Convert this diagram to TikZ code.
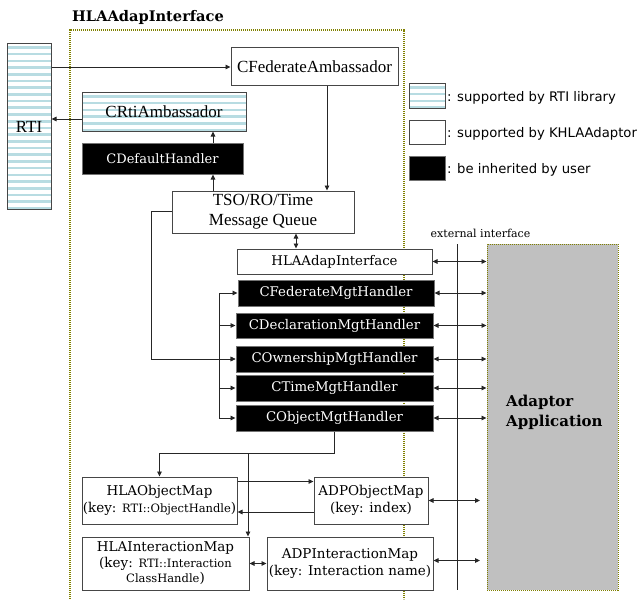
\documentclass[tikz,border=0pt]{standalone}
\usepackage{fontspec}
\setmainfont{Liberation Serif}
\newfontfamily\slab{DejaVu Serif}
\newfontfamily\legendfont{DejaVu Sans}
\usetikzlibrary{arrows.meta,calc}

\definecolor{stripecol}{RGB}{184,220,226}
\definecolor{framecol}{RGB}{128,128,0}
\definecolor{appgray}{RGB}{192,192,192}
\definecolor{edgecol}{RGB}{70,70,70}

\tikzset{
  conn/.style={draw=black!85, line width=0.9pt},
  arr/.style={conn, -{Triangle[length=5pt,width=4.5pt]}},
  darr/.style={conn, {Triangle[length=5pt,width=4.5pt]}-{Triangle[length=5pt,width=4.5pt]}},
  base/.style={inner sep=0pt, line width=1pt, align=center},
  whitebox/.style={base, draw=edgecol, fill=white},
  blackbox/.style={base, draw=black!55, fill=black, text=white},
  stripebox/.style={base, draw=edgecol, fill=white,
    path picture={
      \foreach \k in {0,...,30}{
        \fill[stripecol] ([yshift=-\k*6.7pt-2.2pt]path picture bounding box.north west)
          rectangle ([yshift=-\k*6.7pt-4.8pt]path picture bounding box.north east);
      }}},
  frameline/.style={draw=framecol, line width=1.1pt, dash pattern=on 1.1pt off 0.9pt},
  tnr/.style={font=\fontsize{17}{20}\selectfont},
  slb/.style={font=\slab\fontsize{13.3}{16}\selectfont},
  mapf/.style={font=\slab\fontsize{13.5}{16.5}\selectfont},
  lgtext/.style={font=\legendfont\fontsize{13.2}{16}\selectfont, anchor=west, inner sep=0pt},
}
\newcommand{\smallkey}[1]{{\fontsize{11.5}{14}\selectfont #1}}

\begin{document}
\begin{tikzpicture}[x=1pt,y=-1pt]
  \useasboundingbox (0,0) rectangle (644,599);

  % outer dotted frame of the interface layer (open at the bottom)
  \draw[frameline] (70,599) -- (70,30) -- (404,30) -- (404,599);
  \node[font=\slab\bfseries\fontsize{14.6}{17}\selectfont, anchor=west, inner sep=0pt] (title) at (72,17) {HLAAdapInterface};

  % RTI side
  \node[stripebox, tnr, minimum width=44pt, minimum height=165pt] (rti) at (29,126.5) {RTI};
  \node[whitebox, tnr, minimum width=167pt, minimum height=38pt] (cfa) at (314.5,67) {CFederateAmbassador};
  \node[stripebox, tnr, minimum width=164pt, minimum height=38pt] (crti) at (164,112) {CRtiAmbassador};
  \node[blackbox, font=\slab\fontsize{13}{16}\selectfont, minimum width=161pt, minimum height=31pt] (cdef) at (162.5,158.5) {CDefaultHandler};
  \node[whitebox, tnr, minimum width=182pt, minimum height=42pt] (tso) at (263,212) {TSO/RO/Time\\Message Queue};

  % handlers
  \node[whitebox, slb, minimum width=195pt, minimum height=25pt] (hai) at (334.5,261.5) {HLAAdapInterface};
  \node[blackbox, slb, minimum width=196pt, minimum height=26pt] (cfed) at (336,293) {CFederateMgtHandler};
  \node[blackbox, slb, minimum width=197pt, minimum height=25pt] (cdecl) at (334.5,325.5) {CDeclarationMgtHandler};
  \node[blackbox, slb, minimum width=197pt, minimum height=26pt] (cown) at (334.5,359) {COwnershipMgtHandler};
  \node[blackbox, slb, minimum width=197pt, minimum height=26pt] (ctime) at (334.5,388) {CTimeMgtHandler};
  \node[blackbox, slb, minimum width=197pt, minimum height=26pt] (cobj) at (334.5,418) {CObjectMgtHandler};

  % maps
  \node[whitebox, mapf, minimum width=155pt, minimum height=47pt] (hom) at (159.5,500.5)
    {HLAObjectMap\\(key: \smallkey{RTI::ObjectHandle})};
  \node[whitebox, mapf, minimum width=114pt, minimum height=47pt] (aom) at (371,500.5)
    {ADPObjectMap\\(key: index)};
  \node[whitebox, mapf, minimum width=167pt, minimum height=53pt] (him) at (165.5,563.5)
    {HLAInteractionMap\\[-1pt](key: \smallkey{RTI::Interaction}\\[-1pt]\smallkey{ClassHandle})};
  \node[whitebox, mapf, minimum width=166pt, minimum height=53pt] (aim) at (350,563.5)
    {ADPInteractionMap\\(key: Interaction name)};

  % application side
  \node[base, fill=appgray, draw=framecol, dash pattern=on 1.1pt off 0.9pt, minimum width=131pt, minimum height=346pt] (app) at (552.5,417) {};
  \node[font=\slab\bfseries\fontsize{15}{20}\selectfont, align=left, anchor=west, inner sep=0pt] (applabel) at (506,412) {Adaptor\\Application};
  \coordinate (etop) at (457,244);
  \coordinate (ebot) at (457,590);
  \draw[conn] (etop) -- (ebot);
  \node[font=\slab\fontsize{11}{13}\selectfont, inner sep=0pt] (extlabel) at (480.5,233) {external interface};

  % legend
  \node[stripebox, minimum width=36pt, minimum height=24pt] (lg1) at (427,96) {};
  \node[whitebox, minimum width=36pt, minimum height=24pt] (lg2) at (427,132) {};
  \node[blackbox, minimum width=36pt, minimum height=24pt] (lg3) at (427,168) {};
  \node[lgtext] (lt1) at (447,98) {: supported by RTI library};
  \node[lgtext] (lt2) at (447,134) {: supported by KHLAAdaptor};
  \node[lgtext] (lt3) at (447,170) {: be inherited by user};

  % helper columns for vertical connectors
  \coordinate (cx) at (213,0);
  \coordinate (fx) at (327,0);
  \coordinate (hx) at (296,0);
  \coordinate (bx) at (219,0);
  \coordinate (ax) at (480,0);
  \coordinate (jn) at (248,453);

  % connectors in the upper part
  \draw[arr] (cfa.west -| rti.east) -- (cfa.west);
  \draw[arr] ([yshift=-7pt]crti.west) -- ([yshift=-7pt]crti.west -| rti.east);
  \draw[arr] (cdef.north -| cx) -- (crti.south -| cx);
  \draw[arr] (tso.north -| cx) -- (cdef.south -| cx);
  \draw[arr] (cfa.south -| fx) -- (tso.north -| fx);
  \draw[darr] (tso.south -| hx) -- (hai.north -| hx);
  \draw[arr] ([yshift=1pt]tso.west) -- ++(-20pt,0) |- (cown.west);

  % bus to the handlers
  \draw[conn] (cfed.west -| bx) -- (cobj.west -| bx);
  \foreach \h in {cfed,cdecl,cown,ctime,cobj}{
    \draw[arr] (\h.west -| bx) -- (\h.west);
  }

  % external interface links
  \foreach \h in {hai,cfed,cdecl,cown,ctime,cobj}{
    \draw[darr] (\h.east) -- (\h.east -| app.west);
  }
  \draw[darr] (aom.east) -- (aom.east -| ax);
  \draw[darr] ([yshift=3pt]aim.east) -- ([yshift=3pt]aim.east -| ax);

  % maps
  \draw[arr] (cobj.south) -- (cobj.south |- jn) -| (hom.north);
  \draw[arr] (jn) -- (him.north -| jn);
  \draw[arr] ([yshift=-5pt]hom.north east) -- ([yshift=-5pt]aom.north west);
  \draw[arr] ([yshift=-11.5pt]aom.west) -- ([yshift=-11.5pt]aom.west -| hom.east);
  \draw[darr] (him.east) -- (aim.west);
\end{tikzpicture}
\end{document}
